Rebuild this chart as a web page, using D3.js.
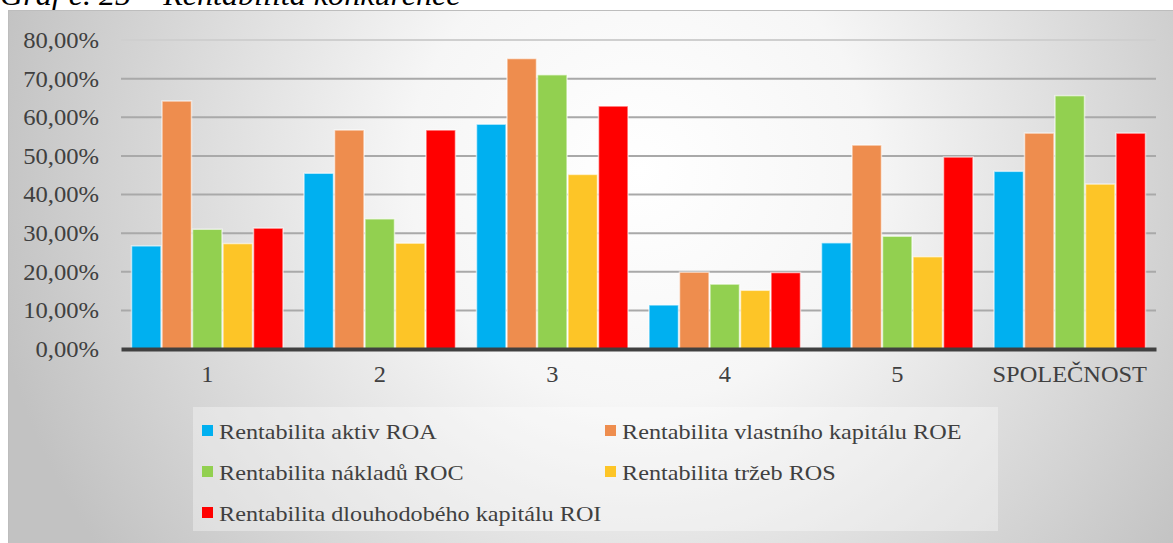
<!DOCTYPE html>
<html lang="cs">
<head>
  <meta charset="utf-8">
  <title>Rentabilita konkurence</title>
  <script src="https://d3js.org/d3.v7.min.js"></script>
  <style>
    body { margin: 0; background: #fff; }
    svg { display: block; }
    svg text { font-family: 'Liberation Serif', 'Times New Roman', Times, serif; }
  </style>
</head>
<body>
  <div id="chart"></div>
  <script>
    // data (percent)
    var categories = ['1', '2', '3', '4', '5', 'SPOLEČNOST'];
    var seriesNames = [
      'Rentabilita aktiv ROA',
      'Rentabilita vlastního kapitálu ROE',
      'Rentabilita nákladů ROC',
      'Rentabilita tržeb ROS',
      'Rentabilita dlouhodobého kapitálu ROI'
    ];
    var roa = [26.7, 45.5, 58.2, 11.4, 27.5, 46.0];
    var roe = [64.2, 56.7, 75.2, 19.9, 52.8, 55.9];
    var roc = [31.0, 33.7, 71.0, 16.8, 29.2, 65.6];
    var ros = [27.3, 27.4, 45.2, 15.2, 23.9, 42.7];
    var roi = [31.3, 56.7, 62.9, 19.8, 49.7, 55.9];
    var yTicks = [0, 10, 20, 30, 40, 50, 60, 70, 80];
    var colors = ['#00b0f0', '#ee8d4e', '#92d050', '#fdc527', '#ff0000'];
    var title = 'Graf č. 25 – Rentabilita konkurence';

    var seriesValues = [roa, roe, roc, ros, roi];
    var data = categories.map(function(c, i) {
      return {
        key: c,
        values: seriesNames.map(function(s, j) { return {series: s, value: seriesValues[j][i]}; })
      };
    });

    var w = 1173, h = 543;
    var plot = {left: 121, right: 1156, top: 40, bottom: 349};

    // the scanned picture is a bit wider than tall, stretch texts the same way
    function stretch(sel, k) {
      sel.each(function() {
        var len = this.getComputedTextLength();
        d3.select(this).attr('textLength', len * k).attr('lengthAdjust', 'spacingAndGlyphs');
      });
    }

    var svg = d3.select('#chart').append('svg')
      .attr('width', w)
      .attr('height', h);

    var defs = svg.append('defs');
    var grad = defs.append('radialGradient')
      .attr('id', 'bg')
      .attr('gradientUnits', 'userSpaceOnUse')
      .attr('cx', 640).attr('cy', 170).attr('r', 660);
    grad.append('stop').attr('offset', '0%').attr('stop-color', '#ffffff');
    grad.append('stop').attr('offset', '35%').attr('stop-color', '#f6f6f6');
    grad.append('stop').attr('offset', '100%').attr('stop-color', '#c2c2c2');

    // caption, cut by the top edge like in the source
    svg.append('text')
      .attr('x', 0).attr('y', 5)
      .attr('font-size', 30)
      .attr('font-style', 'italic')
      .attr('fill', '#000')
      .text(title)
      .call(stretch, 1.07);

    // chart area
    svg.append('rect')
      .attr('x', 8.5).attr('y', 10.5)
      .attr('width', w).attr('height', h)
      .attr('fill', 'url(#bg)')
      .attr('stroke', '#bdbdbd');

    var x0 = d3.scaleBand()
      .domain(categories)
      .range([plot.left, plot.right])
      .paddingInner(0.116)
      .paddingOuter(0.058);

    var x1 = d3.scaleBand()
      .domain(seriesNames)
      .range([0, x0.bandwidth()]);

    var y = d3.scaleLinear()
      .domain([0, 80])
      .range([plot.bottom, plot.top]);

    var color = d3.scaleOrdinal().domain(seriesNames).range(colors);

    // gridlines
    svg.append('g')
      .selectAll('line')
      .data(yTicks.filter(function(t) { return t > 0; }))
      .enter().append('line')
        .attr('x1', plot.left).attr('x2', plot.right)
        .attr('y1', function(d) { return y(d); })
        .attr('y2', function(d) { return y(d); })
        .attr('stroke', function(d) { return d === 80 ? '#cfcfcf' : '#a9a9a9'; })
        .attr('stroke-width', 2);

    // y axis labels
    var yAxis = d3.axisLeft(y)
      .tickValues(yTicks)
      .tickSize(0)
      .tickPadding(22)
      .tickFormat(function(d) { return d.toFixed(2).replace('.', ',') + '%'; });
    var gy = svg.append('g')
      .attr('transform', 'translate(' + plot.left + ',0)')
      .call(yAxis);
    gy.select('.domain').remove();
    gy.attr('font-family', null);
    gy.selectAll('text')
      .attr('font-size', 23)
      .attr('fill', '#404040')
      .call(stretch, 1.07);

    // bars
    var group = svg.selectAll('.group')
      .data(data)
      .enter().append('g')
        .attr('class', 'group')
        .attr('transform', function(d) { return 'translate(' + x0(d.key) + ',0)'; });

    group.selectAll('rect')
      .data(function(d) { return d.values; })
      .enter().append('rect')
        .attr('x', function(d) { return x1(d.series) + 0.5; })
        .attr('y', function(d) { return y(d.value); })
        .attr('width', x1.bandwidth() - 1)
        .attr('height', function(d) { return y(0) - y(d.value); })
        .attr('fill', function(d) { return color(d.series); })
        .attr('stroke', '#ffffff')
        .attr('stroke-opacity', 0.6)
        .attr('stroke-width', 1.5);

    // x axis
    var xAxis = d3.axisBottom(x0).tickSize(0).tickPadding(17);
    var gx = svg.append('g')
      .attr('transform', 'translate(0,' + plot.bottom + ')')
      .call(xAxis);
    gx.attr('font-family', null);
    gx.select('.domain')
      .attr('stroke', '#404040')
      .attr('stroke-width', 4);
    gx.selectAll('text')
      .attr('font-size', 23)
      .attr('fill', '#404040')
      .call(stretch, 1.06);

    // legend
    var legend = svg.append('g');
    legend.append('rect')
      .attr('x', 193).attr('y', 407)
      .attr('width', 805).attr('height', 124)
      .attr('fill', '#ffffff')
      .attr('fill-opacity', 0.35);

    var item = legend.selectAll('.item')
      .data(seriesNames)
      .enter().append('g')
        .attr('class', 'item')
        .attr('transform', function(d, i) {
          return 'translate(' + [i % 2 === 0 ? 202 : 605, 431 + Math.floor(i / 2) * 41] + ')';
        });
    item.append('rect')
      .attr('x', 0).attr('y', -6)
      .attr('width', 11).attr('height', 11)
      .attr('fill', function(d) { return color(d); });
    item.append('text')
      .attr('x', 17).attr('y', 0)
      .attr('dy', '0.35em')
      .attr('font-size', 22)
      .attr('fill', '#404040')
      .text(function(d) { return d; })
      .call(stretch, 1.1);
  </script>
</body>
</html>
